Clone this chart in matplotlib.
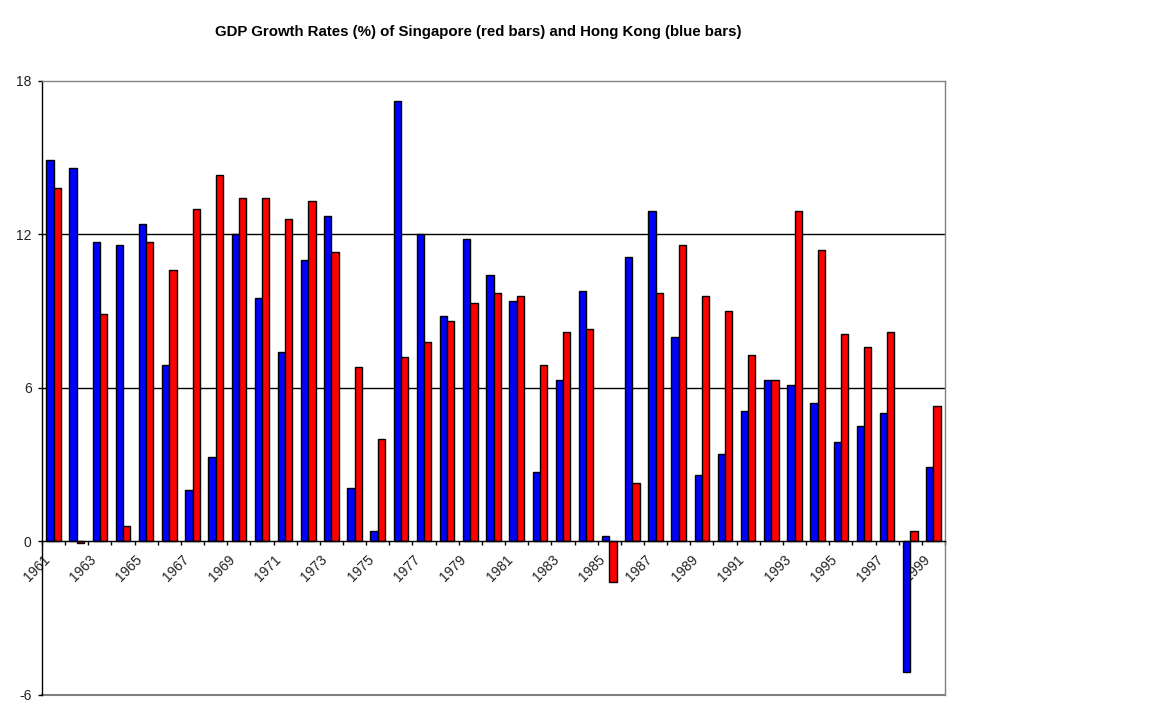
import numpy as np
import matplotlib
matplotlib.use("Agg")
import matplotlib.pyplot as plt
import matplotlib.transforms as mtransforms

plt.rcParams['font.family'] = ['Liberation Sans', 'DejaVu Sans']

years = list(range(1961, 2000))
hong_kong = [14.9, 14.6, 11.7, 11.6, 12.4, 6.9, 2.0, 3.3, 12.0, 9.5,
             7.4, 11.0, 12.7, 2.1, 0.4, 17.2, 12.0, 8.8, 11.8, 10.4,
             9.4, 2.7, 6.3, 9.8, 0.2, 11.1, 12.9, 8.0, 2.6, 3.4,
             5.1, 6.3, 6.1, 5.4, 3.9, 4.5, 5.0, -5.1, 2.9]
singapore = [13.8, -0.05, 8.9, 0.6, 11.7, 10.6, 13.0, 14.3, 13.4, 13.4,
             12.6, 13.3, 11.3, 6.8, 4.0, 7.2, 7.8, 8.6, 9.3, 9.7,
             9.6, 6.9, 8.2, 8.3, -1.6, 2.3, 9.7, 11.6, 9.6, 9.0,
             7.3, 6.3, 12.9, 11.4, 8.1, 7.6, 8.2, 0.4, 5.3]
y_ticks = [-6, 0, 6, 12, 18]
title = 'GDP Growth Rates (%) of Singapore (red bars) and Hong Kong (blue bars)'

fig = plt.figure(figsize=(11.52, 7.2), dpi=100)
ax = fig.add_axes([42 / 1152, 1 - 695 / 720, (945 - 42) / 1152, (695 - 80.7) / 720])

x = np.arange(len(years))
w = 0.315
ax.bar(x - w / 2, hong_kong, w, color='#0000FF', edgecolor='black', linewidth=1, zorder=3)
ax.bar(x + w / 2, singapore, w, color='#FF0000', edgecolor='black', linewidth=1, zorder=3)

ax.set_xlim(-0.5, len(years) - 0.5)
ax.set_ylim(-6, 18)

# grid lines
for v in [6, 12]:
    ax.axhline(v, color='black', linewidth=1, zorder=1)
ax.axhline(-6, color='#808080', linewidth=1.5, clip_on=False, zorder=1)

ax.spines['bottom'].set_position(('data', 0))
ax.spines['bottom'].set_zorder(4)
ax.spines['left'].set_color('black')
ax.spines['top'].set_color('#808080')
ax.spines['right'].set_color('#808080')
for s in ax.spines.values():
    s.set_linewidth(1)

ax.set_yticks(y_ticks)
ax.set_yticklabels([str(v) for v in y_ticks])
ax.tick_params(axis='y', direction='out', length=3, width=1, labelsize=10, pad=4.5,
               labelcolor='#222222')

ax.set_xticks(x[::2])
ax.set_xticklabels([str(y) for y in years[::2]], rotation=45, ha='right', va='top',
                   rotation_mode='anchor')
ax.set_xticks(np.arange(-0.5, len(years), 1), minor=True)
ax.tick_params(axis='x', which='major', length=0, labelsize=10, pad=8,
               labelcolor='#222222')
ax.tick_params(axis='x', which='minor', direction='out', length=3, width=1)
offset = mtransforms.ScaledTranslation(-11 / 100, 0, fig.dpi_scale_trans)
for lab in ax.get_xticklabels():
    lab.set_transform(lab.get_transform() + offset)

fig.text(478 / 1152, 1 - 32 / 720, title, ha='center', va='center',
         fontsize=10.8, fontweight='bold')

fig.savefig('out.png', dpi=100)
